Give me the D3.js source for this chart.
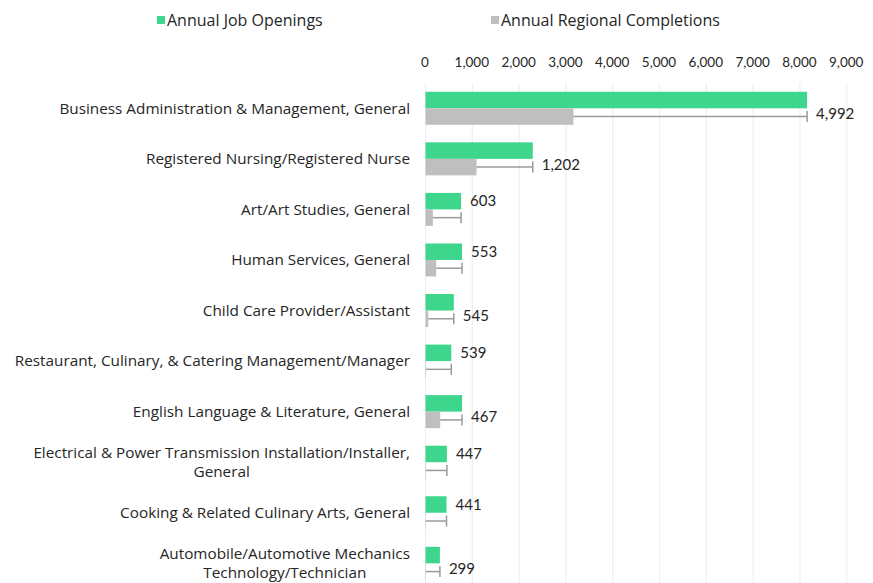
<!DOCTYPE html>
<html>
<head>
<meta charset="utf-8">
<script src="https://cdn.jsdelivr.net/npm/d3@7"></script>
<style>
    body { margin: 0; background: #fff; }
    svg { font-family: "Lato", sans-serif; }
</style>
</head>
<body>
<div class="visualizer"></div>
<script>
// Data definition
const programs = [
    ["Business Administration & Management, General"],
    ["Registered Nursing/Registered Nurse"],
    ["Art/Art Studies, General"],
    ["Human Services, General"],
    ["Child Care Provider/Assistant"],
    ["Restaurant, Culinary, & Catering Management/Manager"],
    ["English Language & Literature, General"],
    ["Electrical & Power Transmission Installation/Installer,", "General"],
    ["Cooking & Related Culinary Arts, General"],
    ["Automobile/Automotive Mechanics", "Technology/Technician"]
];
const jobOpenings = [8154, 2292, 760, 781, 605, 551, 781, 457, 449, 308];
const completions = [3162, 1090, 157, 228, 60, 12, 314, 10, 8, 9];
const gapLabels = [4992, 1202, 603, 553, 545, 539, 467, 447, 441, 299];
// whether the gap label sits beside the green bar (true) or lower, near the error bar (false)
const labelOnGreen = [false, false, true, true, false, true, false, true, true, false];
const xTicks = [0, 1000, 2000, 3000, 4000, 5000, 6000, 7000, 8000, 9000];
const seriesNames = ["Annual Job Openings", "Annual Regional Completions"];

(function () {
    // SVG properties
    const width = 873, height = 583;
    const plotLeft = 425.5, plotRight = 846.7, plotTop = 83, rowStep = 50.56;
    const barH = 16.5;
    const green = "#3dd68c", gray = "#bfbfbf", errColor = "#9a9a9a", textColor = "#262626";
    const labelFont = "'Open Sans', sans-serif";

    const svg = d3.select(".visualizer")
        .append("svg")
        .attr("width", width)
        .attr("height", height);

    const xScale = d3.scaleLinear().domain([0, 9000]).range([plotLeft, plotRight]);
    const yScale = d3.scaleBand()
        .domain(d3.range(programs.length))
        .range([plotTop, plotTop + rowStep * programs.length]);

    // gridlines
    svg.append("g")
        .selectAll("line")
        .data(xTicks)
        .enter()
        .append("line")
        .attr("x1", d => xScale(d))
        .attr("x2", d => xScale(d))
        .attr("y1", plotTop)
        .attr("y2", height)
        .attr("stroke", "#efefef")
        .attr("stroke-width", 1.2);

    // x-axis on top
    const xAxis = d3.axisTop(xScale)
        .tickValues(xTicks)
        .tickSize(0)
        .tickPadding(0)
        .tickFormat(d3.format(","));
    svg.append("g")
        .attr("transform", "translate(-1, 67)")
        .call(xAxis)
        .call(g => g.select(".domain").remove())
        .call(g => g.selectAll("text")
            .attr("fill", textColor)
            .attr("font-size", 13.5)
            .attr("font-family", "Lato, sans-serif"));

    const rowCenter = i => yScale(i) + yScale.bandwidth() / 2;

    // bars
    svg.append("g")
        .selectAll("rect")
        .data(jobOpenings)
        .enter()
        .append("rect")
        .attr("x", xScale(0))
        .attr("y", (d, i) => rowCenter(i) - barH)
        .attr("width", d => xScale(d) - xScale(0))
        .attr("height", barH)
        .attr("fill", green);

    svg.append("g")
        .selectAll("rect")
        .data(completions)
        .enter()
        .append("rect")
        .attr("x", xScale(0))
        .attr("y", (d, i) => rowCenter(i))
        .attr("width", d => xScale(d) - xScale(0))
        .attr("height", barH)
        .attr("fill", gray);

    // error bars (gap between completions and openings)
    const errG = svg.append("g")
        .attr("stroke", errColor)
        .attr("stroke-width", 1.5)
        .attr("fill", "none");
    completions.forEach((c, i) => {
        const yMid = rowCenter(i) + barH / 2;
        const xEnd = xScale(c + gapLabels[i]);
        errG.append("line")
            .attr("x1", xScale(c)).attr("x2", xEnd)
            .attr("y1", yMid).attr("y2", yMid);
        errG.append("line")
            .attr("x1", xEnd).attr("x2", xEnd)
            .attr("y1", yMid - 5.5).attr("y2", yMid + 5.5);
    });

    // gap labels
    svg.append("g")
        .selectAll("text")
        .data(gapLabels)
        .enter()
        .append("text")
        .attr("x", (d, i) => xScale(completions[i] + d) + 9)
        .attr("y", (d, i) => labelOnGreen[i] ? rowCenter(i) - barH / 2 : rowCenter(i) + 5.5)
        .attr("dy", "0.35em")
        .attr("font-size", 15)
        .attr("fill", textColor)
        .text(d => d3.format(",")(d));

    // category labels (wrapped lines centered within right-aligned block)
    const catG = svg.append("g")
        .attr("font-size", 15.3)
        .attr("font-family", labelFont)
        .attr("fill", textColor);
    programs.forEach((lines, i) => {
        const t = catG.append("text")
            .attr("text-anchor", "middle");
        const lineH = 19;
        const y0 = rowCenter(i) - (lines.length - 1) * lineH / 2;
        lines.forEach((ln, j) => {
            t.append("tspan")
                .attr("y", y0 + j * lineH)
                .attr("dy", "0.35em")
                .text(ln);
        });
        let maxW = 0;
        t.selectAll("tspan").each(function () {
            maxW = Math.max(maxW, this.getComputedTextLength());
        });
        t.selectAll("tspan").attr("x", 410 - maxW / 2);
    });

    // legend
    const legend = svg.append("g")
        .attr("font-size", 16)
        .attr("font-family", labelFont)
        .attr("fill", textColor);
    const legendX = [157, 491];
    const legendColors = [green, gray];
    seriesNames.forEach((name, i) => {
        legend.append("rect")
            .attr("x", legendX[i])
            .attr("y", 16)
            .attr("width", 8)
            .attr("height", 8)
            .attr("fill", legendColors[i]);
        legend.append("text")
            .attr("x", legendX[i] + 10)
            .attr("y", 20)
            .attr("dy", "0.35em")
            .text(name);
    });
})();
</script>
</body>
</html>
